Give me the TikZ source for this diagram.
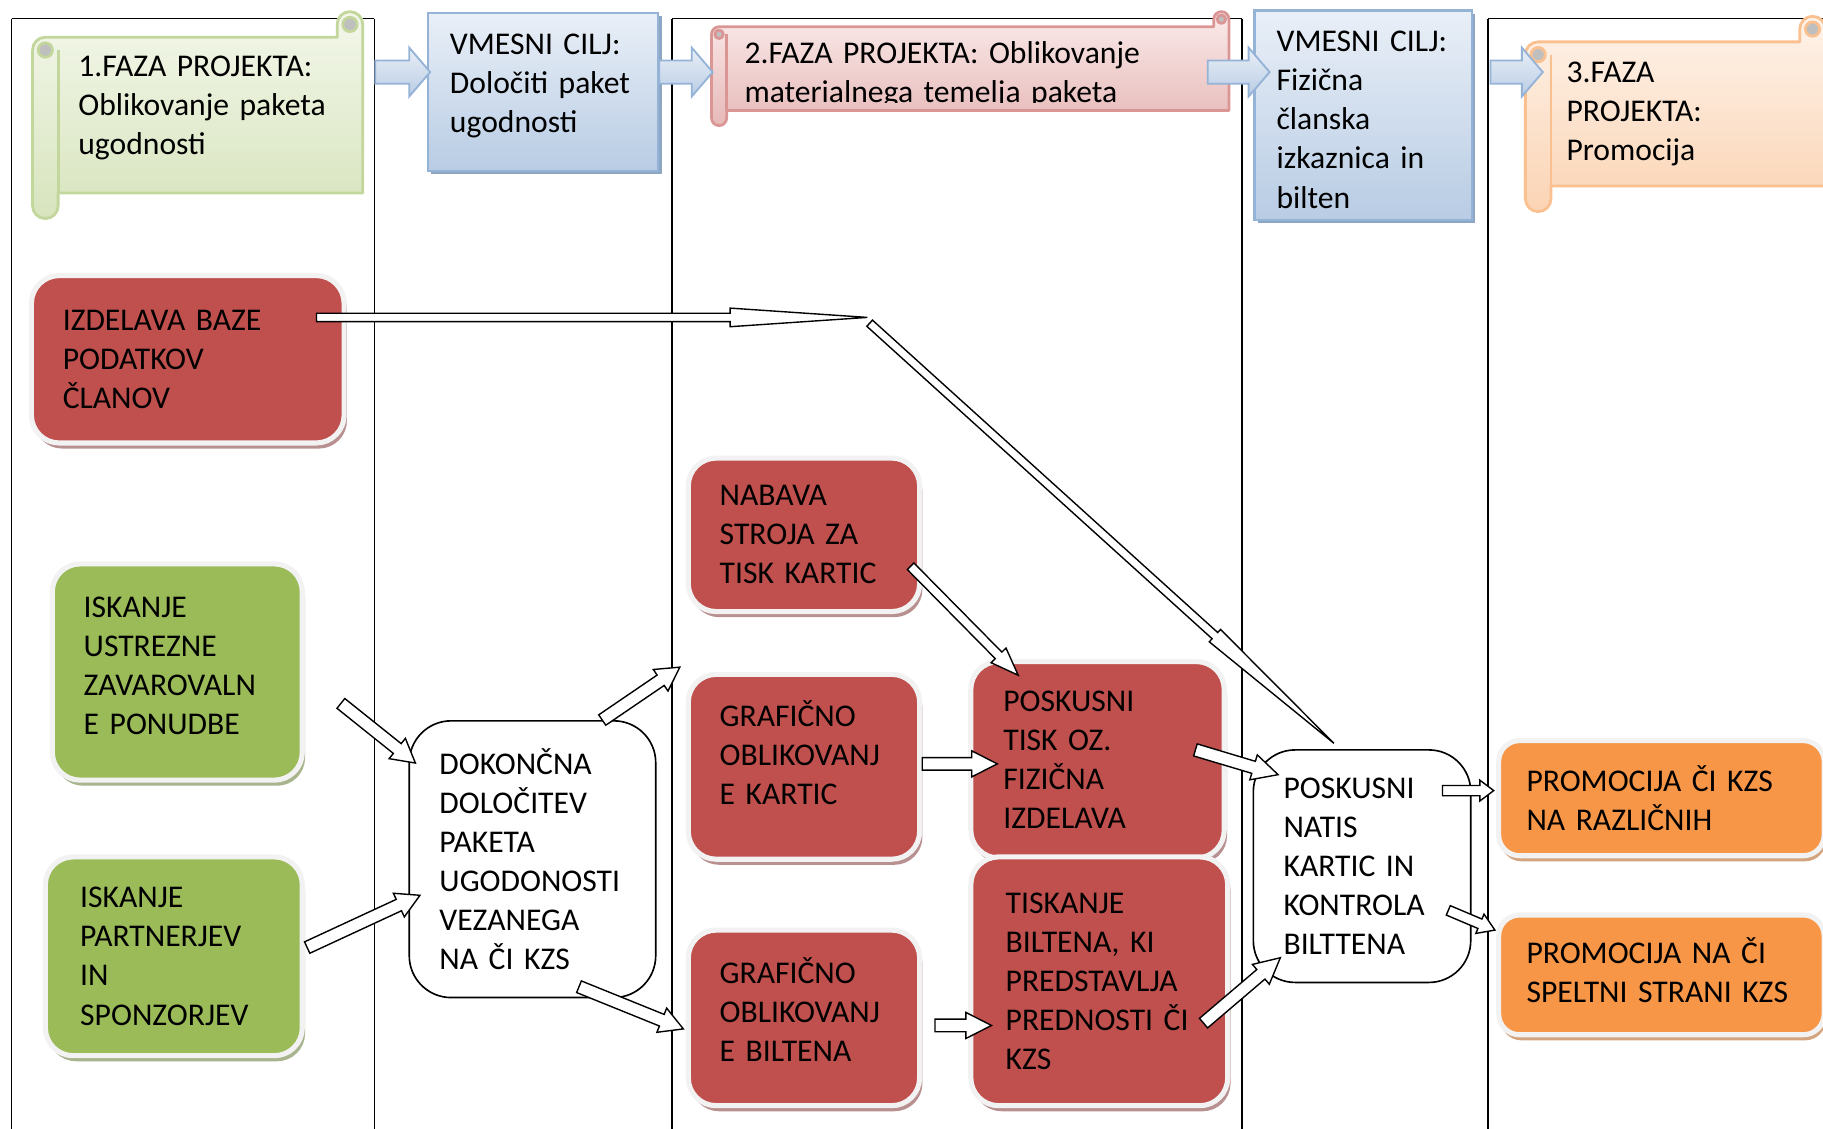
\documentclass[tikz,border=0pt]{standalone}
\usepackage{fontspec}
\setmainfont{Carlito}
\usetikzlibrary{calc,shadows}

\definecolor{rdecapolnilo}{HTML}{C0504D}
\definecolor{rdecasenca}{HTML}{B89090}
\definecolor{zelenapolnilo}{HTML}{9BBB59}
\definecolor{zelenasenca}{HTML}{A7B48E}
\definecolor{oranznapolnilo}{HTML}{F79646}
\definecolor{oranznasenca}{HTML}{D4A47E}
\definecolor{svetlaobroba}{HTML}{F2F2F2}
\definecolor{modraobroba}{HTML}{95B3D7}
\definecolor{modrazgoraj}{HTML}{E9EFF7}
\definecolor{modraspodaj}{HTML}{B8CCE4}
\definecolor{modrasenca}{HTML}{8DA6C4}
\definecolor{zelobroba}{HTML}{C3D69B}
\definecolor{zelzgoraj}{HTML}{F3F7EA}
\definecolor{zelspodaj}{HTML}{D7E4BD}
\definecolor{rdeobroba}{HTML}{D99694}
\definecolor{rdezgoraj}{HTML}{FAEBEA}
\definecolor{rdespodaj}{HTML}{E6B9B8}
\definecolor{orobroba}{HTML}{FAC08F}
\definecolor{orzgoraj}{HTML}{FEF3EA}
\definecolor{orspodaj}{HTML}{FBD4B4}
\definecolor{siva}{HTML}{BFBFBF}

\newcommand{\pisava}{\fontsize{13.6pt}{16.8pt}\selectfont}

% zvitek: levo, zgoraj, desno, spodaj, debelina, barve
\newcommand{\zvitek}[6]{%
  \draw[zvitek, draw=#6obroba, top color=#6zgoraj, bottom color=#6spodaj]
    (#1,#2+1.5*#5) -- (#1,#4-0.5*#5) arc(180:0:0.5*#5) -- (#1+#5,#4-#5)
    -- (#3,#4-#5) -- (#3,#2+0.5*#5) arc(0:-180:0.5*#5) -- (#3-#5,#2+#5)
    -- (#1+0.5*#5,#2+#5) arc(-90:-180:0.5*#5) -- cycle;
  \draw[zvitek, draw=#6obroba] (#1+#5,#2+1.5*#5) -- (#1+#5,#4-#5);
  \filldraw[zvitek, draw=#6obroba, fill=siva] (#1+0.5*#5,#2+1.5*#5) circle (0.28*#5);
  \filldraw[zvitek, draw=#6obroba, fill=siva] (#3-0.5*#5,#2+0.5*#5) circle (0.28*#5);}

% blokovna puscica: [slog] od, do, pol trupa, pol glave, dolzina glave
\newcommand{\puscica}[6][belapuscica]{%
  \path[#1] let \p1=(#2), \p2=(#3), \n1={atan2(\y2-\y1,\x2-\x1)}, \n2={veclen(\x2-\x1,\y2-\y1)} in
    [shift={(\p1)}, rotate=\n1]
    (0pt,-#4) -- (\n2-#6,-#4) -- (\n2-#6,-#5) -- (\n2,0pt) -- (\n2-#6,#5) -- (\n2-#6,#4) -- (0pt,#4) -- cycle;}

\tikzset{
  besedilo/.style = {font=\pisava, align=left, inner ysep=0pt},
  skatla/.style   = {besedilo, draw=svetlaobroba, line width=2.2pt, rounded corners=12pt, inner xsep=13.5pt},
  rdeca/.style    = {skatla, fill=rdecapolnilo,
                     drop shadow={shadow xshift=1.2pt, shadow yshift=-2.4pt, fill=rdecasenca, opacity=1}},
  zelena/.style   = {skatla, fill=zelenapolnilo,
                     drop shadow={shadow xshift=1.2pt, shadow yshift=-2.4pt, fill=zelenasenca, opacity=1}},
  oranzna/.style  = {skatla, rounded corners=9pt, inner xsep=12pt, fill=oranznapolnilo,
                     drop shadow={shadow xshift=0.8pt, shadow yshift=-2.4pt, fill=oranznasenca, opacity=1}},
  bela/.style     = {besedilo, draw, line width=0.7pt, fill=white, rounded corners=18pt, inner xsep=13pt},
  cilj/.style     = {besedilo, anchor=north west, draw=modraobroba, line width=1pt,
                     top color=modrazgoraj, bottom color=modraspodaj, inner xsep=9.5pt,
                     drop shadow={shadow xshift=1.5pt, shadow yshift=-1.5pt, fill=modrasenca, opacity=1}},
  faza/.style     = {besedilo, anchor=north west},
  vrh/.style 2 args = {text height=#1, text depth=#2},
  zvitek/.style   = {line width=1.2pt, line join=round},
  mreza/.style    = {line width=0.7pt},
  belapuscica/.style  = {draw, fill=white, line width=0.6pt},
  modrapuscica/.style = {draw=modraobroba, line width=0.8pt, top color=modrazgoraj, bottom color=modraspodaj}
}

\begin{document}
\begin{tikzpicture}[x=0.5pt, y=-0.5pt]
    \useasboundingbox (0,0) rectangle (1568,971);

    % stolpci tabele
    \foreach \x in {10,322,578,1068,1280} {
        \draw[mreza] (\x,16) -- (\x,971);
    }
    \draw[mreza] (10,16) -- (322,16);
    \draw[mreza] (578,16) -- (1068,16);
    \draw[mreza] (1280,16) -- (1568,16);

    % faze in vmesni cilji
    \zvitek{28}{10}{312}{188}{22}{zel}
    \zvitek{612}{10}{1057}{108}{13}{rde}
    \zvitek{1312}{14}{1570}{182}{22}{or}

    \node[faza, inner xsep=8.5pt, text width=114pt, vrh={16.75pt}{50.25pt}] (faza1) at (50,32)
        {1.FAZA PROJEKTA:\\Oblikovanje paketa\\ugodnosti};
    \node[cilj, text width=80pt, vrh={17.75pt}{50.25pt}] (cilj1) at (367,10)
        {VMESNI CILJ:\\Določiti paket\\ugodnosti};
    \begin{scope}
        \clip (600,0) rectangle (1070,88);
        \node[faza, inner xsep=7.5pt, text width=201pt, vrh={15.75pt}{20.25pt}] (faza2) at (625,23)
            {2.FAZA PROJEKTA: Oblikovanje\\materialnega temelja paketa};
    \end{scope}
    \node[cilj, text width=74.5pt, vrh={17.75pt}{72.25pt}] (cilj2) at (1078,8)
        {VMESNI CILJ:\\Fizična\\članska\\izkaznica in\\bilten};
    \node[faza, inner xsep=6.5pt, text width=105pt, vrh={17.25pt}{44.75pt}] (faza3) at (1334,36)
        {3.FAZA\\PROJEKTA:\\Promocija};

    \puscica[modrapuscica]{$(faza1.north east)+(10,30)$}{$(cilj1.north west)+(3,52)$}{5pt}{10.5pt}{9pt}
    \puscica[modrapuscica]{$(cilj1.north east)+(0,52)$}{$(faza2.north west)+(-12,39)$}{5pt}{10.5pt}{9pt}
    \puscica[modrapuscica]{$(faza2.north east)+(-19,39)$}{$(cilj2.north west)+(14,54)$}{5pt}{10.5pt}{9pt}
    \puscica[modrapuscica]{$(cilj2.north east)+(15,54)$}{$(faza3.north west)+(-7,26)$}{5pt}{10.5pt}{9pt}

    % aktivnosti
    \node[rdeca, text width=107.5pt, minimum height=72pt] (izdelava) at (161.5,309)
        {IZDELAVA BAZE\\PODATKOV\\ČLANOV};
    \node[zelena, text width=80.5pt, vrh={22.85pt}{70.15pt}] (zavar) at (152.5,578)
        {ISKANJE\\USTREZNE\\ZAVAROVALN\\E PONUDBE};
    \node[zelena, inner xsep=15pt, text width=80.5pt, minimum height=85.5pt] (partner) at (149.5,822.5)
        {ISKANJE\\PARTNERJEV\\IN\\SPONZORJEV};
    \node[bela, text width=80pt, minimum height=119pt] (dokoncna) at (458,739)
        {DOKONČNA\\DOLOČITEV\\PAKETA\\UGODONOSTI\\VEZANEGA\\NA ČI KZS};
    \node[rdeca, text width=72.5pt, minimum height=66pt] (nabava) at (691.5,460)
        {NABAVA\\STROJA ZA\\TISK KARTIC};
    \node[rdeca, text width=72.5pt, vrh={22.35pt}{57.15pt}] (grafk) at (691.5,659.5)
        {GRAFIČNO\\OBLIKOVANJ\\E KARTIC};
    \node[rdeca, text width=72.5pt, vrh={22.85pt}{52.65pt}] (grafb) at (691.5,875.5)
        {GRAFIČNO\\OBLIKOVANJ\\E BILTENA};
    \node[rdeca, inner xsep=14pt, text width=81pt, minimum height=84.5pt] (tisk) at (944,653.5)
        {POSKUSNI\\TISK OZ.\\FIZIČNA\\IZDELAVA};
    \node[rdeca, inner xsep=15pt, text width=80.5pt, minimum height=107pt] (tiskanje) at (945.5,844)
        {TISKANJE\\BILTENA, KI\\PREDSTAVLJA\\PREDNOSTI ČI\\KZS};
    \node[bela, text width=67.5pt, minimum height=100pt] (natis) at (1171.5,745)
        {POSKUSNI\\NATIS\\KARTIC IN\\KONTROLA\\BILTTENA};
    \node[oranzna, text width=116pt, minimum height=49.5pt] (promo1) at (1429,686.5)
        {PROMOCIJA ČI KZS\\NA RAZLIČNIH};
    \node[oranzna, text width=116pt, vrh={20.85pt}{30.65pt}] (promo2) at (1429,838.5)
        {PROMOCIJA NA ČI\\SPELTNI STRANI KZS};

    % puscice
    \coordinate (koleno) at (746,273);
    \puscica{$(izdelava.east)+(-26,-36)$}{koleno}{1.8pt}{4pt}{59pt}
    \puscica{$(koleno)+(2,5)$}{$(natis.north west)+(70,-5)$}{1.8pt}{3.6pt}{69pt}
    \puscica{$(zavar.east)+(31,27)$}{$(dokoncna.north west)+(6,37)$}{2.7pt}{5.6pt}{10pt}
    \puscica{$(partner.east)+(2,-7.5)$}{$(dokoncna.west)+(10,31)$}{2.7pt}{5.6pt}{10pt}
    \puscica{$(dokoncna.north)+(60,0)$}{$(grafk.north west)+(-5,-4)$}{2.7pt}{5.6pt}{10pt}
    \puscica{$(dokoncna.south)+(40,-10)$}{$(grafb.west)+(-2,9.5)$}{2.7pt}{5.6pt}{10pt}
    \puscica{$(nabava.east)+(-10,27)$}{$(tisk.north west)+(43,14)$}{2pt}{4.5pt}{12pt}
    \puscica{$(grafk.east)+(0,-2.5)$}{$(tisk.west)+(25,3.5)$}{2.7pt}{5.6pt}{11pt}
    \puscica{$(grafb.east)+(11,6.5)$}{$(tiskanje.west)+(20,38)$}{2.7pt}{5.6pt}{11pt}
    \puscica{$(tisk.east)+(-27,-8.5)$}{$(natis.north west)+(22,22)$}{2.7pt}{5.6pt}{11pt}
    \puscica{$(tiskanje.east)+(-23,36)$}{$(natis.south west)+(24,-22)$}{2.7pt}{5.6pt}{11pt}
    \puscica{$(natis.east)+(-25,-65)$}{$(promo1.west)+(-2,-6.5)$}{2.2pt}{4.5pt}{6pt}
    \puscica{$(natis.east)+(-20,38)$}{$(promo2.west)+(-1,-38.5)$}{2.2pt}{4.5pt}{7pt}
\end{tikzpicture}
\end{document}
